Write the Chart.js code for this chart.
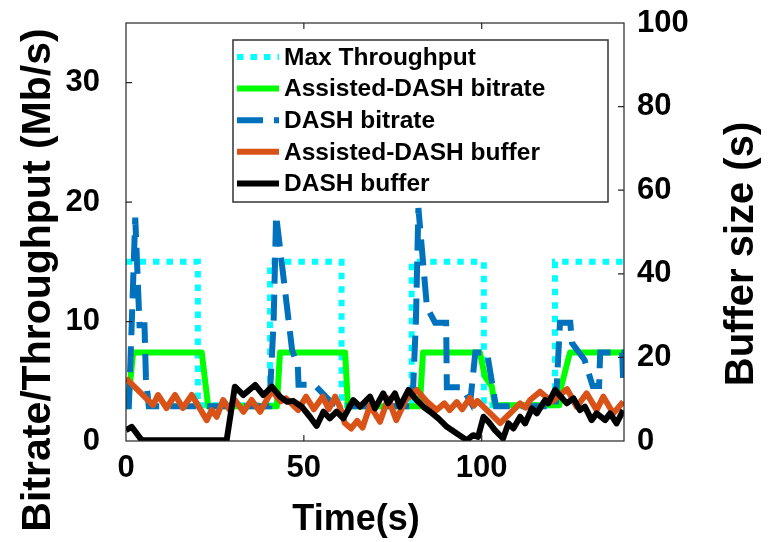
<!DOCTYPE html>
<html>
<head>
<meta charset="utf-8">
<script src="https://cdn.jsdelivr.net/npm/chart.js@4.4.0/dist/chart.umd.min.js"></script>
<style>
  html, body { margin: 0; padding: 0; background: #fff; }
  #wrap { width: 768px; height: 542px; }
</style>
</head>
<body>
<div id="wrap"><canvas id="chart" width="768" height="542"></canvas></div>
<script>
// --- data: [time (s), value] ---
const xTicks = [0, 50, 100];
const rateTicks = [0, 10, 20, 30];
const bufferTicks = [0, 20, 40, 60, 80, 100];

// left axis (Mb/s)
const maxTputPts = [[0,15],[20.2,15],[20.2,3],[40.5,3],[40.5,15],[60.6,15],[60.6,3],[80.3,3],[80.3,15],
  [100.6,15],[100.6,3],[120.6,3],[120.6,15],[140,15]];
const assistedRatePts = [[0,2.9],[0.5,2.9],[2,7.4],[21.3,7.4],[23.1,2.9],[42.4,2.9],[43.3,7.4],[61.6,7.4],
  [62.4,2.9],[82.6,2.9],[83.5,7.4],[99.5,7.4],[100.9,5.4],[102.8,4.6],[103.7,3],[121.8,3],[122.4,4.6],
  [124.8,7.4],[140,7.4]];
const dashRatePts = [[0,2.9],[0.8,2.9],[1.6,9.7],[2.6,18.7],[3.8,9.7],[5.2,9.7],[5.6,5.3],[6.4,2.9],
  [40.3,2.9],[41.5,10],[42.2,18.9],[46.7,7.6],[48.3,6.3],[48.5,4.7],[53,4.7],[57.5,3.3],[60,2.9],
  [80.5,2.9],[81.5,10],[82.2,19.5],[84.6,11.2],[86.9,9.9],[90,9.9],[90.2,4.5],[94.5,4.5],[96.8,3.3],
  [98.2,7.4],[101.5,7.4],[104,2.9],[120.8,2.9],[122,9.9],[124.9,9.9],[125.4,8.2],[128.9,6.8],
  [131.2,4.6],[133,4.6],[133.3,7.4],[139.5,7.4],[139.8,4.5],[140,4.5]];

// right axis (s)
const assistedBufPts = [[0,15],[7.6,8.6],[9,11],[11.4,7.9],[13.8,11],[16,7.9],[18.5,11],[22.7,5],[24.1,7.4],
  [25.5,5.8],[27.3,9.8],[29.2,7.4],[30.6,9.8],[33,7],[35.3,9.8],[37.7,7],[41,12],[43.5,9.5],[45,10.2],
  [48.4,7.4],[50.6,10.6],[52.8,7.6],[55.3,10.6],[57,7.6],[58.8,10.6],[60.2,8],[61.5,4.3],[63.3,3],
  [65,4.8],[66.5,3.2],[68.6,8.5],[71.4,4.6],[73.7,10.2],[76,5],[78.6,9.8],[81.7,12.2],[84.5,9.5],
  [87.3,7.4],[89.5,9],[91,7.4],[93,9.3],[94.5,7.6],[96.7,10.3],[97.8,8.4],[98.8,9.6],[105.2,4.3],
  [108,6.6],[110.8,9],[112.3,8],[113.6,9.8],[116.4,11.8],[119.7,9.4],[124,12.4],[126.7,8.2],
  [129.5,11.4],[132.3,7.4],[134.2,10.6],[137,6.6],[139.8,9.4]];
const dashBufPts = [[0,2.6],[1.6,3.4],[4.4,0.2],[28.3,0.2],[30.6,13],[33,11],[36.3,13.4],[38.6,11],[41,13],
  [43.3,10.6],[45.2,9.4],[47,9.6],[49.4,8.2],[51.7,5.8],[53.6,3.6],[55.5,7],[57.3,5.4],[59.2,7],[61.1,5.4],
  [63.9,9.8],[65.8,8.2],[68.6,10.6],[70,7.8],[72.3,11.4],[73.7,9],[75.6,11.4],[77,8.2],[79.4,12.2],
  [81.7,9.8],[83.6,8.2],[85.5,7],[87.8,5.4],[90.2,3.4],[93,1.8],[95.8,0.2],[97.6,1.4],[99,1],[100.5,5.8],
  [101.9,4.6],[103.7,2.6],[106,0.6],[107.5,4.2],[108.9,3],[110.8,5.8],[112.2,4.2],[114.1,7.8],[115.5,6.6],
  [117.8,9.8],[118.7,9],[120.6,12.2],[123.9,9],[125.8,10.2],[127.6,7.4],[129,8.2],[130.9,5],[132.3,6.6],
  [134.7,5],[136.1,6.6],[137.9,4.2],[139.8,7.4]];

const FONT = '"Liberation Sans", Arial, Helvetica, sans-serif';
const toXY = pts => pts.map(p => ({ x: p[0], y: p[1] }));

const series = (label, pts, axis, color, dash, order) => ({
  label,
  data: toXY(pts),
  yAxisID: axis,
  borderColor: color,
  backgroundColor: color,
  borderWidth: 6,
  borderDash: dash,
  borderCapStyle: 'butt',
  borderJoinStyle: dash.length ? 'miter' : 'round',
  showLine: true,
  pointRadius: 0,
  tension: 0,
  order
});

const datasets = [
  series('Max Throughput', maxTputPts, 'y', '#00FFFF', [6.5, 7], 5),
  series('Assisted-DASH bitrate', assistedRatePts, 'y', '#00FF00', [], 4),
  series('DASH bitrate', dashRatePts, 'y', '#0072BD', [26, 11], 3),
  series('Assisted-DASH buffer', assistedBufPts, 'y2', '#D95319', [], 2),
  series('DASH buffer', dashBufPts, 'y2', '#000000', [], 1)
];

// box, inward ticks, legend and axis titles
const frame = {
  id: 'frame',
  afterDraw(chart) {
    const { ctx, chartArea: a, scales } = chart;
    ctx.save();
    ctx.strokeStyle = '#262626';
    ctx.lineWidth = 1.2;
    ctx.setLineDash([]);
    ctx.strokeRect(a.left, a.top, a.right - a.left, a.bottom - a.top);

    const tl = 6;
    ctx.beginPath();
    xTicks.forEach(v => {
      if (v <= scales.x.min || v >= scales.x.max) return;
      const px = scales.x.getPixelForValue(v);
      ctx.moveTo(px, a.bottom); ctx.lineTo(px, a.bottom - tl);
      ctx.moveTo(px, a.top); ctx.lineTo(px, a.top + tl);
    });
    rateTicks.forEach(v => {
      if (v <= scales.y.min) return;
      const py = scales.y.getPixelForValue(v);
      ctx.moveTo(a.left, py); ctx.lineTo(a.left + tl, py);
    });
    bufferTicks.forEach(v => {
      if (v <= scales.y2.min || v >= scales.y2.max) return;
      const py = scales.y2.getPixelForValue(v);
      ctx.moveTo(a.right, py); ctx.lineTo(a.right - tl, py);
    });
    ctx.stroke();

    // legend
    const lx = 233, ly = 40, lw = 375, lh = 162;
    ctx.fillStyle = '#fff';
    ctx.fillRect(lx, ly, lw, lh);
    ctx.lineWidth = 1.5;
    ctx.strokeStyle = '#333';
    ctx.strokeRect(lx, ly, lw, lh);
    ctx.font = 'bold 24.5px ' + FONT;
    ctx.textAlign = 'left';
    ctx.textBaseline = 'middle';
    chart.data.datasets.forEach((ds, i) => {
      const y = 57 + i * 31.6;
      ctx.beginPath();
      ctx.strokeStyle = ds.borderColor;
      ctx.lineWidth = ds.borderWidth;
      ctx.lineCap = 'butt';
      ctx.setLineDash(ds.borderDash);
      ctx.moveTo(237, y);
      ctx.lineTo(279, y);
      ctx.stroke();
      ctx.setLineDash([]);
      ctx.fillStyle = '#000';
      ctx.fillText(ds.label, 284, y + 1);
    });

    // axis titles
    ctx.fillStyle = '#000';
    ctx.textAlign = 'center';
    ctx.textBaseline = 'middle';
    const vtext = (txt, x, y) => {
      ctx.save();
      ctx.translate(x, y);
      ctx.rotate(-Math.PI / 2);
      ctx.fillText(txt, 0, 0);
      ctx.restore();
    };
    ctx.font = 'bold 41px ' + FONT;
    vtext('Bitrate/Throughput (Mb/s)', 39, 280);
    ctx.font = 'bold 40px ' + FONT;
    vtext('Buffer size (s)', 742, 254);
    ctx.font = 'bold 36px ' + FONT;
    ctx.fillText('Time(s)', 356, 520);
    ctx.restore();
  }
};

const tickFont = { family: FONT, size: 31, weight: 'bold' };
const noPad = s => { s.paddingTop = 0; s.paddingBottom = 0; s.paddingLeft = 0; s.paddingRight = 0; };

new Chart(document.getElementById('chart').getContext('2d'), {
  type: 'scatter',
  data: { datasets },
  plugins: [frame],
  options: {
    responsive: false,
    animation: false,
    layout: { padding: { top: 23, left: 0, right: 0, bottom: 0 } },
    plugins: { legend: { display: false }, tooltip: { enabled: false } },
    scales: {
      x: {
        type: 'linear', position: 'bottom', min: 0, max: 140,
        grid: { display: false }, border: { display: false },
        ticks: { stepSize: 50, includeBounds: false, color: '#000', font: tickFont, padding: 1, maxRotation: 0 },
        afterFit: s => { s.height = 101; noPad(s); }
      },
      y: {
        type: 'linear', position: 'left', min: 0, max: 35,
        grid: { display: false }, border: { display: false },
        ticks: { stepSize: 10, includeBounds: false, color: '#000', font: tickFont, padding: 18 },
        afterFit: s => { s.width = 126; noPad(s); }
      },
      y2: {
        type: 'linear', position: 'right', min: 0, max: 100,
        grid: { display: false }, border: { display: false },
        ticks: { stepSize: 20, includeBounds: false, color: '#000', font: tickFont, padding: 5 },
        afterFit: s => { s.width = 144; noPad(s); }
      }
    }
  }
});
</script>
</body>
</html>
